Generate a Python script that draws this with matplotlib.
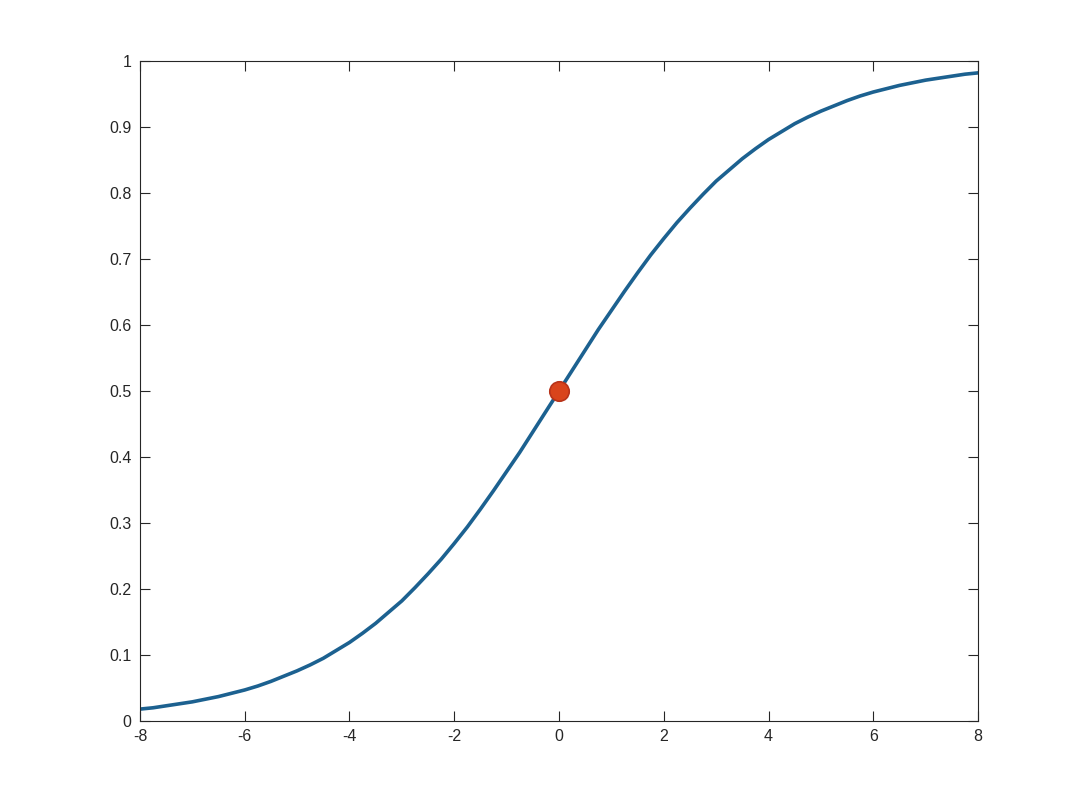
import matplotlib.pyplot as plt

# values (every 0.25 in x)
x_vals = [-8, -7.75, -7.5, -7.25, -7, -6.75, -6.5, -6.25, -6, -5.75, -5.5, -5.25,
          -5, -4.75, -4.5, -4.25, -4, -3.75, -3.5, -3.25, -3, -2.75, -2.5, -2.25,
          -2, -1.75, -1.5, -1.25, -1, -0.75, -0.5, -0.25,
          0, 0.25, 0.5, 0.75, 1, 1.25, 1.5, 1.75, 2, 2.25, 2.5, 2.75,
          3, 3.25, 3.5, 3.75, 4, 4.25, 4.5, 4.75, 5, 5.25, 5.5, 5.75,
          6, 6.25, 6.5, 6.75, 7, 7.25, 7.5, 7.75, 8]
y_vals = [0.018, 0.020, 0.023, 0.026, 0.029, 0.033, 0.037, 0.042, 0.047, 0.053,
          0.060, 0.068, 0.076, 0.085, 0.095, 0.107, 0.119, 0.133, 0.148, 0.165,
          0.182, 0.202, 0.223, 0.245, 0.269, 0.294, 0.321, 0.349, 0.378, 0.407,
          0.438, 0.469,
          0.500, 0.531, 0.562, 0.593, 0.622, 0.651, 0.679, 0.706, 0.731, 0.755,
          0.777, 0.798, 0.818, 0.835, 0.852, 0.867, 0.881, 0.893, 0.905, 0.915,
          0.924, 0.932, 0.940, 0.947, 0.953, 0.958, 0.963, 0.967, 0.971, 0.974,
          0.977, 0.980, 0.982]
point_x = [0]
point_y = [0.5]

x_ticks = [-8, -6, -4, -2, 0, 2, 4, 6, 8]
y_ticks = [0, 0.1, 0.2, 0.3, 0.4, 0.5, 0.6, 0.7, 0.8, 0.9, 1]
y_labels = ["0", "0.1", "0.2", "0.3", "0.4", "0.5", "0.6", "0.7", "0.8", "0.9", "1"]

plt.rcParams["font.family"] = ["Liberation Sans", "DejaVu Sans"]

fig = plt.figure(figsize=(10.8, 8.1), dpi=100)
ax = fig.add_axes([0.1296, 0.1099, 0.7760, 0.8148])

ax.plot(x_vals, y_vals, color="#1c6190", lw=2.6, solid_joinstyle="round")
ax.plot(point_x, point_y, "o", ms=14, mfc="#d9441c", mec="#b8331a", mew=1.2)

ax.set_xlim(-8, 8)
ax.set_ylim(0, 1)
ax.set_xticks(x_ticks)
ax.set_xticklabels([str(t) for t in x_ticks])
ax.set_yticks(y_ticks)
ax.set_yticklabels(y_labels)

for s in ax.spines.values():
    s.set_color("#262626")
    s.set_linewidth(0.8)
ax.tick_params(direction="in", length=7, width=0.8, colors="#262626",
               top=True, right=True, labelsize=11.5, pad=6)

fig.savefig("out.png", dpi=100)
